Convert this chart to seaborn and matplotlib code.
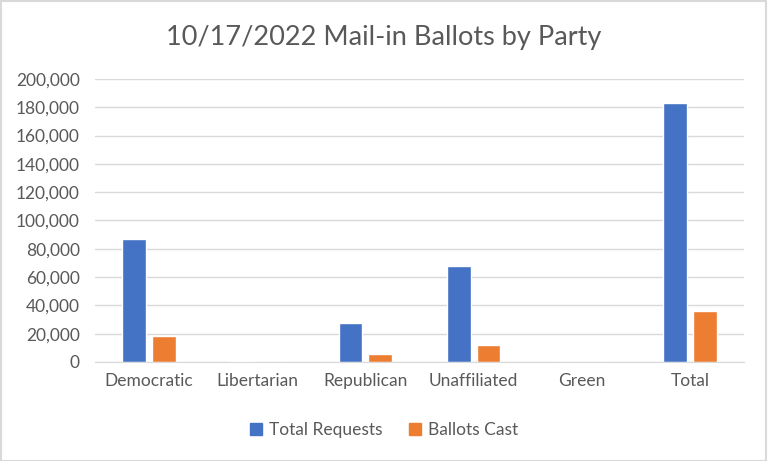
import pandas as pd
import matplotlib.pyplot as plt
import seaborn as sns
from matplotlib.patches import Patch, Rectangle
from matplotlib.ticker import FuncFormatter

# Data
parties = ["Democratic", "Libertarian", "Republican", "Unaffiliated", "Green", "Total"]
total_requests = [86800, 500, 27800, 67900, 150, 182900]
ballots_cast = [18300, 100, 5800, 12100, 30, 36200]

df = pd.DataFrame({
    "Party": parties * 2,
    "Count": total_requests + ballots_cast,
    "Series": ["Total Requests"] * len(parties) + ["Ballots Cast"] * len(parties),
})

sns.set_style("white")
plt.rcParams["font.family"] = ["Lato", "DejaVu Sans"]

text_col = "#595959"
grid_col = "#D9D9D9"
palette = {"Total Requests": "#4472C4", "Ballots Cast": "#ED7D31"}

fig = plt.figure(figsize=(7.68, 4.61), dpi=100)
ax = fig.add_axes([0.1237, 0.2148, 0.845, 0.6138])

sns.barplot(data=df, x="Party", y="Count", hue="Series", palette=palette,
            width=0.55, gap=0.2, ax=ax, legend=False, saturation=1)

ax.set_ylim(0, 200000)
ax.set_xlim(-0.5, 5.5)
ax.set_yticks(range(0, 200001, 20000))
ax.yaxis.set_major_formatter(FuncFormatter(lambda v, p: f"{int(v):,}"))
ax.grid(axis="y", color=grid_col, linewidth=1)
ax.set_axisbelow(True)
for s in ["top", "right", "left"]:
    ax.spines[s].set_visible(False)
ax.spines["bottom"].set_color(grid_col)
ax.tick_params(length=0, labelsize=12.5, labelcolor=text_col)
ax.tick_params(axis="x", pad=8)
ax.tick_params(axis="y", pad=11)
ax.set_xlabel("")
ax.set_ylabel("")

fig.suptitle("10/17/2022 Mail-in Ballots by Party", y=0.945, fontsize=19.5, color=text_col)

handles = [Patch(color=palette[k], label=k) for k in palette]
fig.legend(handles=handles, loc="center", bbox_to_anchor=(0.5, 0.067), ncol=2,
           frameon=False, fontsize=12.5, labelcolor=text_col,
           handlelength=0.7, handleheight=0.7, handletextpad=0.4, columnspacing=1.5)

fig.patches.append(Rectangle((0.001, 0.001), 0.997, 0.997, transform=fig.transFigure,
                             fill=False, edgecolor=grid_col, linewidth=1.5))

fig.savefig("out.png", dpi=100)
